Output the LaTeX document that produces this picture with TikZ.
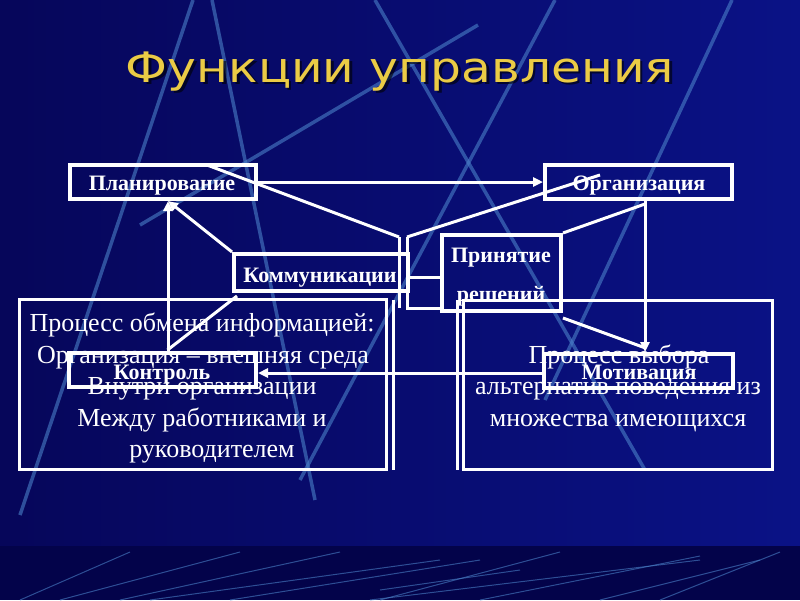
\documentclass[tikz,border=0pt]{standalone}
\usepackage{fontspec}
\setmainfont{Liberation Serif}
\newfontfamily\titlefont{DejaVu Sans}
\usetikzlibrary{arrows.meta}
\definecolor{bgA}{HTML}{06065A}
\definecolor{bgB}{HTML}{0B0D8C}
\definecolor{bgC}{HTML}{0A1286}
\definecolor{stripc}{HTML}{03034A}
\definecolor{streak}{HTML}{4A80C8}
\definecolor{titley}{HTML}{EBCB45}
\definecolor{glow}{HTML}{D8F0E8}
\begin{document}
\begin{tikzpicture}[x=1pt,y=-1pt,
  sbox/.style={draw=white,line width=4pt,inner sep=0pt},
  bbox/.style={draw=white,line width=3pt,inner sep=0pt},
  lbl/.style={text=white,font=\fontsize{22}{22}\selectfont\bfseries,anchor=base,inner sep=0pt},
  btxt/.style={text=white,font=\fontsize{26}{26}\selectfont,anchor=base,inner sep=0pt},
  conn/.style={draw=white,line width=3pt},
  arr/.style={conn,-{Triangle[length=10pt,width=9pt]}},
  streakline/.style={draw=streak,line width=3.5pt,opacity=0.6},
  thinstreak/.style={draw=streak,line width=1pt,opacity=0.6}]
\useasboundingbox (0,0) rectangle (800,600);
% background
\shade[left color=bgA,middle color=bgB,right color=bgC] (0,0) rectangle (800,546);
\begin{scope}
\clip (0,0) rectangle (800,546);
\draw[streakline] (193,0) -- (20,515);
\draw[streakline] (212,0) -- (315,500);
\draw[streakline] (478,25) -- (140,225);
\draw[streakline] (375,0) -- (645,470);
\draw[streakline] (555,0) -- (300,480);
\draw[streakline] (732,0) -- (545,400);
\end{scope}
\fill[stripc] (0,546) rectangle (800,600);
\shade[left color=stripc,middle color=glow,right color=stripc] (10,547.5) rectangle (790,550.5);
\begin{scope}
\clip (0,551) rectangle (800,600);
\draw[thinstreak] (20,600) -- (130,552);
\draw[thinstreak] (60,600) -- (240,552);
\draw[thinstreak] (120,600) -- (340,552);
\draw[thinstreak] (150,600) -- (440,560);
\draw[thinstreak] (230,600) -- (480,560);
\draw[thinstreak] (380,600) -- (560,552);
\draw[thinstreak] (380,590) -- (520,570);
\draw[thinstreak] (370,600) -- (700,560);
\draw[thinstreak] (480,600) -- (700,556);
\draw[thinstreak] (600,600) -- (760,560);
\draw[thinstreak] (660,600) -- (780,552);
\end{scope}
% title
\node[font=\titlefont\fontsize{42}{42}\selectfont,text=black,opacity=0.6,anchor=base,inner sep=0pt] (titleshadow) at (402.5,84.5) {\scalebox{1.16}[1]{Функции управления}};
\node[font=\titlefont\fontsize{42}{42}\selectfont,text=titley,anchor=base,inner sep=0pt] (title) at (400,82) {\scalebox{1.16}[1]{Функции управления}};
% big box texts
\node[btxt] (l1) at (202,331) {Процесс обмена информацией:};
\node[btxt] (l2) at (203,363) {Организация – внешняя среда};
\node[btxt] (l3) at (202,394) {Внутри организации};
\node[btxt] (l4) at (202,426) {Между работниками и};
\node[btxt] (l5) at (212,457) {руководителем};
\node[btxt] (r1) at (619,363) {Процесс выбора};
\node[btxt] (r2) at (618,394) {альтернатив поведения из};
\node[btxt] (r3) at (618,426) {множества имеющихся};
% small box labels
\node[lbl] (planT) at (162,190) {Планирование};
\node[lbl] (orgT) at (639,190) {Организация};
\node[lbl] (kommT) at (320,282) {Коммуникации};
\node[lbl] (prinT1) at (501,262) {Принятие};
\node[lbl] (prinT2) at (501,301) {решений};
\node[lbl] (kontrT) at (162,379) {Контроль};
\node[lbl] (motivT) at (639,379) {Мотивация};
% big boxes
\node[bbox,minimum width=367pt,minimum height=170pt] (bigL) at (203,384.5) {};
\node[bbox,minimum width=309pt,minimum height=169pt] (bigR) at (618,385) {};
\coordinate (dL1) at (393,300);
\coordinate (dL2) at (393,470);
\coordinate (dR1) at (457,300);
\coordinate (dR2) at (457,470);
\draw[conn] (dL1) -- (dL2);
\draw[conn] (dR1) -- (dR2);
% small boxes
\node[sbox,minimum width=186pt,minimum height=34pt] (plan) at (163,182) {};
\node[sbox,minimum width=187pt,minimum height=34pt] (org) at (638.5,182) {};
\node[sbox,minimum width=174pt,minimum height=37pt] (komm) at (321,272.5) {};
\node[sbox,minimum width=119pt,minimum height=76pt] (prin) at (501.5,273) {};
\node[sbox,minimum width=187pt,minimum height=34pt] (kontr) at (162.5,370) {};
\node[sbox,minimum width=189pt,minimum height=34pt] (motiv) at (638.5,371) {};
% bracket shape
\coordinate (bA) at (399,237);
\coordinate (bA2) at (399,308);
\coordinate (bB) at (407,237);
\coordinate (bB2) at (407,308);
\coordinate (pStart) at (207,165);
\coordinate (oEnd) at (600,175);
\coordinate (oBot) at (645,204);
\draw[conn] (bA) -- (bA2);
\draw[conn] (bB) -- (bB2) -- (bB2 -| prin.west);
% connectors
\draw[arr] (plan.east) -- (org.west);
\draw[conn] (pStart) -- (bA);
\draw[conn] (bB) -- (oEnd);
\draw[conn] (prin.north east) -- (oBot);
\draw[arr] ([xshift=6.5pt]org.south) -- ([xshift=6.5pt]motiv.north);
\draw[arr] (komm.north west) -- ([xshift=5pt]plan.south);
\draw[arr] ([xshift=5.5pt]kontr.north) -- ([xshift=5pt]plan.south);
\draw[conn] ([xshift=5pt,yshift=-3pt]komm.south west) -- ([xshift=5pt,yshift=1pt]kontr.north);
\draw[arr] ([yshift=-2pt]motiv.west) -- ([yshift=-3pt]kontr.east);
\draw[conn] ([yshift=-5pt]prin.south east) -- ([xshift=7pt,yshift=4pt]motiv.north);
\draw[conn] ([yshift=-4.5pt]komm.east) -- ([yshift=-4pt]prin.west);
\end{tikzpicture}
\end{document}
